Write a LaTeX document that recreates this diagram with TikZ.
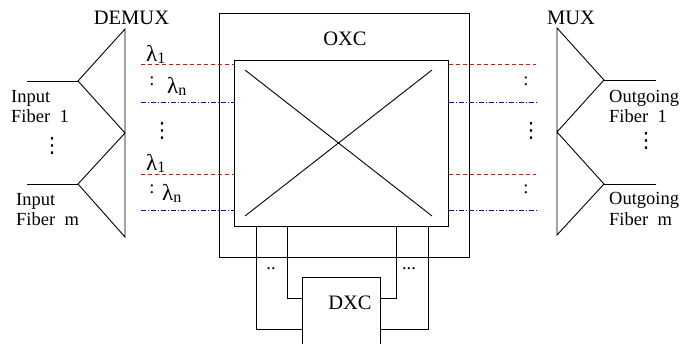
\documentclass[tikz,border=0pt]{standalone}
\usepackage{fontspec}
\setmainfont{Liberation Serif}
\newfontfamily\dvfont{DejaVu Sans}
\usetikzlibrary{calc}
\newcommand{\myvdots}{{\dvfont\fontsize{21}{21}\selectfont ⋮}}
\newcommand{\lam}[1]{{\fontsize{23}{23}\selectfont λ}\raisebox{-0.5ex}{\fontsize{16}{16}\selectfont #1}}
\begin{document}
\begin{tikzpicture}[x=1pt,y=-1pt,
  lbl/.style={font=\fontsize{20.5}{22}\selectfont, inner sep=0, anchor=base},
  txt/.style={font=\fontsize{18.5}{20}\selectfont, inner sep=0, anchor=base west},
  dts/.style={font=\fontsize{18.5}{20}\selectfont, inner sep=0, anchor=base},
  vd/.style={inner sep=0, anchor=center},
  box/.style={draw, line width=0.9pt, inner sep=0, anchor=north west},
  ln/.style={line width=0.9pt},
  reddash/.style={draw=red, line width=1.2pt, dash pattern=on 4pt off 3pt},
  bluedash/.style={draw=blue, line width=1.2pt, dash pattern=on 5pt off 2pt on 1pt off 2pt}]
\clip (0,0) rectangle (680,343);
\useasboundingbox (0,0) rectangle (680,343);

% OXC boxes
\node[box, minimum width=250, minimum height=244] (oxc) at (219,13) {};
\node[box, minimum width=214, minimum height=166] (oxcin) at (234,60) {};
\coordinate (d1) at (245,70);
\coordinate (d2) at (432,216);
\coordinate (d3) at (432,70);
\coordinate (d4) at (245,216);
\draw[ln] (d1) -- (d2);
\draw[ln] (d3) -- (d4);
\node[lbl] (oxclbl) at (345,45) {OXC};

% DEMUX
\draw[ln] (125,29) -- (78,81) coordinate (dmA) -- (125,133) -- (78,184) coordinate (dmB) -- (125,237) -- cycle;
\coordinate (in1) at (27,81);
\coordinate (in2) at (27,184);
\draw[ln] (in1) -- (dmA);
\draw[ln] (in2) -- (dmB);
\node[lbl] (demux) at (131.5,24) {DEMUX};

% MUX
\draw[ln] (557,28) -- (604,80) coordinate (mxA) -- (557,132) -- (604,184) coordinate (mxB) -- (557,235) -- cycle;
\coordinate (out1) at (656,80);
\coordinate (out2) at (656,184);
\draw[ln] (mxA) -- (out1);
\draw[ln] (mxB) -- (out2);
\node[lbl] (mux) at (571,24) {MUX};

% wavelength lines
\coordinate (La) at (141,64.5);  \coordinate (Ra) at (536,64.5);
\coordinate (Lb) at (141,102.5); \coordinate (Rb) at (536,102.5);
\coordinate (Lc) at (141,174.5); \coordinate (Rc) at (536,174.5);
\coordinate (Ld) at (141,210.5); \coordinate (Rd) at (536,210.5);
\draw[reddash] (La) -- (oxcin.west |- La);
\draw[reddash] (oxcin.east |- Ra) -- (Ra);
\draw[bluedash] (Lb) -- (oxcin.west |- Lb);
\draw[bluedash] (oxcin.east |- Rb) -- (Rb);
\draw[reddash] (Lc) -- (oxcin.west |- Lc);
\draw[reddash] (oxcin.east |- Rc) -- (Rc);
\draw[bluedash] (Ld) -- (oxcin.west |- Ld);
\draw[bluedash] (oxcin.east |- Rd) -- (Rd);

% lambda labels
\node[anchor=base west, inner sep=0] (l1a) at (146,61) {\lam{1}};
\node[anchor=base west, inner sep=0] (lna) at (167,93) {\lam{n}};
\node[anchor=base west, inner sep=0] (l1b) at (146,170) {\lam{1}};
\node[anchor=base west, inner sep=0] (lnb) at (162,200) {\lam{n}};
\node[dts] (c1) at (152,85) {:};
\node[dts] (c2) at (152,193) {:};
\node[vd] (v1) at (162,131) {\myvdots};
\node[dts] (c3) at (526,85) {:};
\node[dts] (c4) at (526,193) {:};
\node[vd] (v2) at (531,131) {\myvdots};

% fiber labels
\node[txt] (i1a) at (11,102) {Input};
\node[txt] (i1b) at (11,122) {Fiber~~1};
\node[vd] (v3) at (52,146) {\myvdots};
\node[txt] (i2a) at (16,205) {Input};
\node[txt] (i2b) at (16,225) {Fiber~~m};
\node[txt] (o1a) at (609,102) {Outgoing};
\node[txt] (o1b) at (609,122) {Fiber~~1};
\node[vd] (v4) at (646,141) {\myvdots};
\node[txt] (o2a) at (609,204) {Outgoing};
\node[txt] (o2b) at (609,225) {Fiber~~m};

% DXC
\node[box, minimum width=78, minimum height=90] (dxc) at (302,277) {};
\node[lbl] (dxclbl) at (350,309) {DXC};
\draw[ln] ($(oxcin.south west)+(22,0)$) |- ($(dxc.north west)+(0,52)$);
\draw[ln] ($(oxcin.south west)+(53,0)$) |- ($(dxc.north west)+(0,21)$);
\draw[ln] ($(oxcin.south east)+(-52,0)$) |- ($(dxc.north east)+(0,21)$);
\draw[ln] ($(oxcin.south east)+(-20,0)$) |- ($(dxc.north east)+(0,52)$);
\node[dts] (dd1) at (271,269) {..};
\node[dts] (dd2) at (409,269) {...};
\end{tikzpicture}
\end{document}
